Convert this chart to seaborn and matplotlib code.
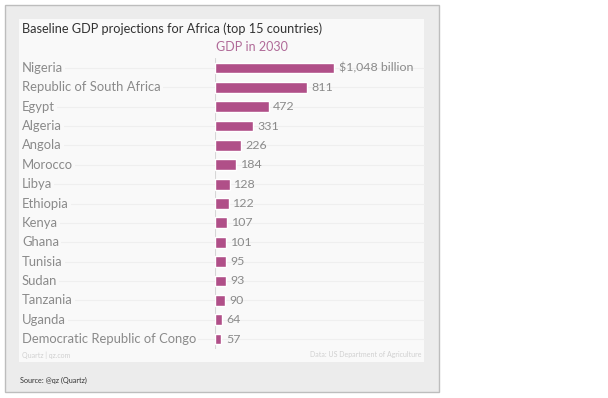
import matplotlib
matplotlib.use("Agg")
import matplotlib.pyplot as plt
import matplotlib.transforms as mtransforms
from matplotlib.patches import Rectangle
import seaborn as sns
import pandas as pd

sns.set_theme(style="white")
plt.rcParams["font.family"] = ["Lato", "DejaVu Sans"]

# Данные
countries = [
    "Nigeria", "Republic of South Africa", "Egypt", "Algeria", "Angola",
    "Morocco", "Libya", "Ethiopia", "Kenya", "Ghana", "Tunisia", "Sudan",
    "Tanzania", "Uganda", "Democratic Republic of Congo",
]
gdp_2030 = [1048, 811, 472, 331, 226, 184, 128, 122, 107, 101, 95, 93, 90, 64, 57]

df = pd.DataFrame({"country": countries, "gdp": gdp_2030})

W, H = 608, 398
fig = plt.figure(figsize=(W / 100, H / 100), dpi=100)
fig.patch.set_facecolor("white")

# рамка и панель
fig.patches.append(Rectangle((5 / W, 1 - 392 / H), 434 / W, 387 / H,
                             transform=fig.transFigure, facecolor="#ececec",
                             edgecolor="#bdbdbd", linewidth=1, zorder=-2))
fig.patches.append(Rectangle((19 / W, 1 - 362 / H), 405 / W, 343 / H,
                             transform=fig.transFigure, facecolor="#f9f9f9",
                             edgecolor="none", zorder=-1))

ax = fig.add_axes([215 / W, 1 - 348.7 / H, 209 / W, 290.4 / H])
ax.patch.set_alpha(0)

bar_color = "#b04f88"
label_gray = "#8a8a8a"

# сетка по строкам
tr = mtransforms.blended_transform_factory(fig.transFigure, ax.transData)
for i in range(len(countries)):
    ax.plot([22 / W, 424 / W], [i, i], transform=tr, color="#efefef",
            linewidth=0.8, zorder=0, clip_on=False)

sns.barplot(data=df, y="country", x="gdp", orient="h", color=bar_color,
            width=0.56, saturation=1, ax=ax, zorder=3)

ax.set_xlim(0, 1840)
ax.set_ylim(len(countries) - 0.5, -0.5)
ax.axvline(0, color="#d6d6d6", linewidth=0.8, zorder=2)

for i, (name, val) in enumerate(zip(countries, gdp_2030)):
    ax.text(22 / W, i, name, transform=tr, ha="left", va="center",
            fontsize=9.4, color=label_gray, zorder=4,
            bbox=dict(facecolor="#f9f9f9", edgecolor="none", pad=1.5))
    txt = f"${val:,} billion" if i == 0 else f"{val}"
    ax.text(val + 40, i, txt, ha="left", va="center", fontsize=8.9,
            color=label_gray, zorder=4)

ax.set_xlabel("")
ax.set_ylabel("")
ax.set_xticks([])
ax.set_yticks([])
for s in ax.spines.values():
    s.set_visible(False)

fig.text(22 / W, 1 - 29 / H, "Baseline GDP projections for Africa (top 15 countries)",
         fontsize=9.2, color="#333333", ha="left", va="center")
fig.text(216 / W, 1 - 47 / H, "GDP in 2030", fontsize=9, color="#b06a98",
         ha="left", va="center")
fig.text(22 / W, 1 - 355 / H, "Quartz | qz.com", fontsize=5, color="#d0d0d0",
         ha="left", va="center")
fig.text(421 / W, 1 - 355 / H, "Data: US Department of Agriculture", fontsize=5,
         color="#d0d0d0", ha="right", va="center")
fig.text(20 / W, 1 - 380 / H, "Source: @qz (Quartz)", fontsize=5.2,
         color="#333333", ha="left", va="center")

fig.savefig("out.png", dpi=100, facecolor=fig.get_facecolor())
